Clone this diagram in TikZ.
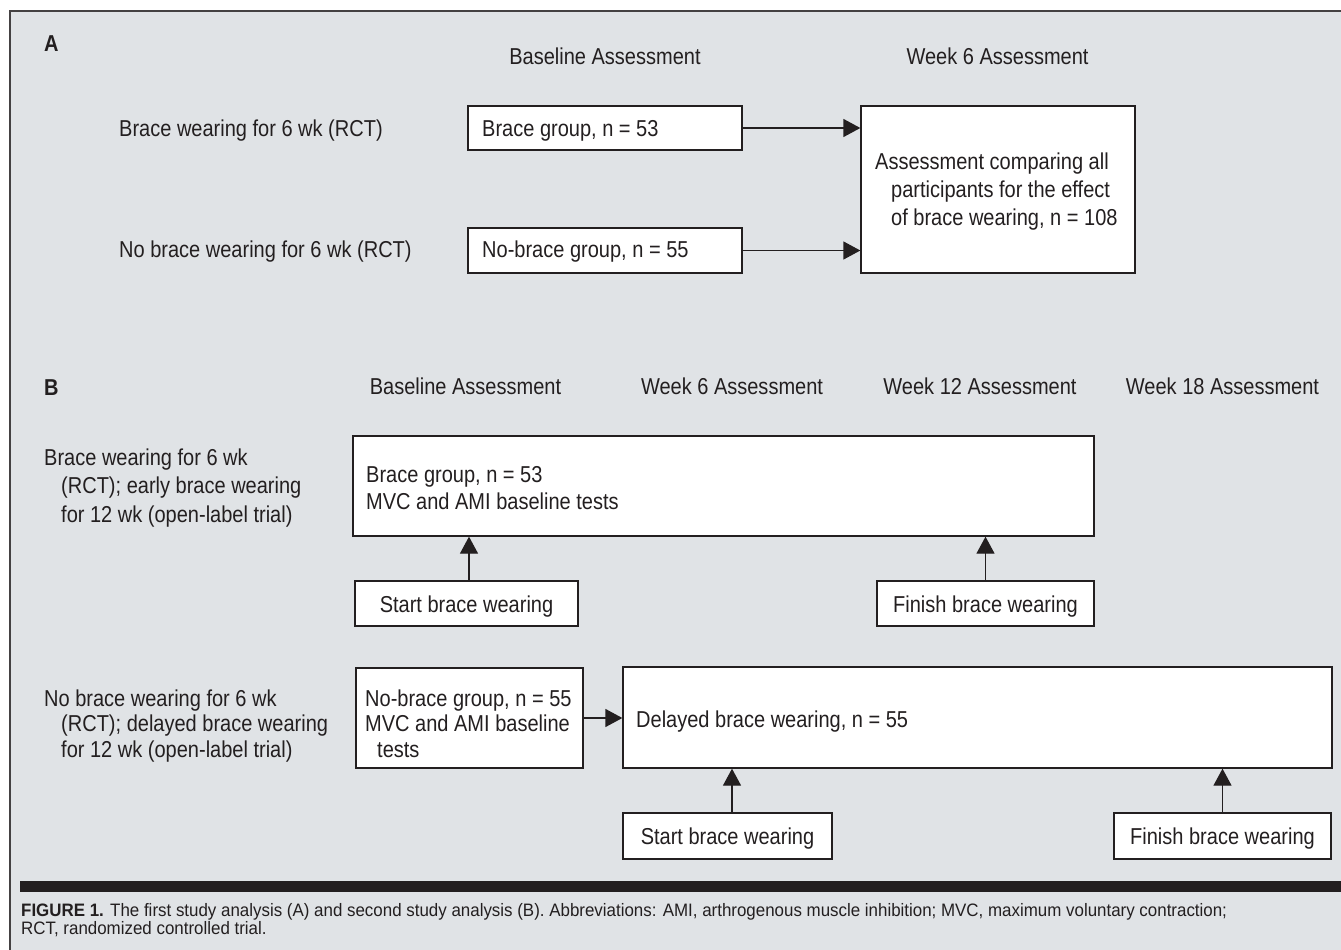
\documentclass[tikz,border=0pt]{standalone}
\usepackage{fontspec}
\setmainfont{Liberation Sans}[FakeStretch=0.87]
\newfontfamily\capfont{Liberation Sans}[FakeStretch=0.94]
\usetikzlibrary{arrows.meta}
\definecolor{bgc}{RGB}{224,227,230}
\definecolor{ink}{RGB}{35,31,32}
\newcommand{\mfs}{\fontsize{23}{28}\selectfont}
\newcommand{\cfs}{\capfont\fontsize{18}{18}\selectfont}
\tikzset{
  box/.style={draw=ink, line width=1.3pt, fill=white, inner sep=0pt},
  lbl/.style={inner sep=0pt, text=ink, font=\mfs},
  arr/.style={draw=ink, line width=1.3pt, -{Triangle[length=17pt,width=18pt]}},
}
\begin{document}
\begin{tikzpicture}[x=1pt,y=-1pt]
\useasboundingbox (0,0) rectangle (1341,950);
\fill[bgc] (10,11) rectangle (1341,950);
\draw[ink!85, line width=1.5pt] (10,950) -- (10,11) -- (1341,11);

% ---------- Panel A ----------
\node[lbl, anchor=base west] (labA) at (44,52) {\bfseries A};
\node[lbl, anchor=base] (hA1) at (605,65) {Baseline Assessment};
\node[lbl, anchor=base] (hA2) at (997.5,65) {Week 6 Assessment};
\node[lbl, anchor=base west] (gA1) at (119,136) {Brace wearing for 6 wk (RCT)};
\node[lbl, anchor=base west] (gA2) at (119,257) {No brace wearing for 6 wk (RCT)};

\node[box, minimum width=274, minimum height=44] (bA) at (605,128) {};
\node[box, minimum width=274, minimum height=45] (nA) at (605,250.5) {};
\node[box, minimum width=274, minimum height=167] (cA) at (998,189.5) {};
\node[lbl, anchor=base west] (bAt) at (482,136) {Brace group, n = 53};
\node[lbl, anchor=base west] (nAt) at (482,257) {No-brace group, n = 55};
\node[lbl, anchor=base west, align=left] (cAt) at (875,225)
  {Assessment comparing all\\\hspace*{16pt}participants for the effect\\\hspace*{16pt}of brace wearing, n = 108};

\draw[arr] (bA.east) -- (bA.east -| cA.west);
\draw[arr] (nA.east) -- (nA.east -| cA.west);

% ---------- Panel B ----------
\node[lbl, anchor=base west] (labB) at (44,395) {\bfseries B};
\node[lbl, anchor=base] (hB1) at (465.5,394) {Baseline Assessment};
\node[lbl, anchor=base] (hB2) at (732,394) {Week 6 Assessment};
\node[lbl, anchor=base] (hB3) at (980,394) {Week 12 Assessment};
\node[lbl, anchor=base] (hB4) at (1222.5,394) {Week 18 Assessment};

\node[lbl, anchor=base west, align=left, font=\fontsize{23}{28.5}\selectfont] (gB1) at (44,522)
  {Brace wearing for 6 wk\\\hspace*{17pt}(RCT); early brace wearing\\\hspace*{17pt}for 12 wk (open-label trial)};
\node[lbl, anchor=base west, align=left, font=\fontsize{23}{25.5}\selectfont] (gB2) at (44,757)
  {No brace wearing for 6 wk\\\hspace*{17pt}(RCT); delayed brace wearing\\\hspace*{17pt}for 12 wk (open-label trial)};

\node[box, minimum width=741, minimum height=100] (bB) at (723.5,486) {};
\node[box, minimum width=223, minimum height=45] (s1) at (466.5,603.5) {};
\node[box, minimum width=217, minimum height=45] (f1) at (985.5,603.5) {};
\node[box, minimum width=227, minimum height=100] (nbB) at (469.5,718) {};
\node[box, minimum width=709, minimum height=101] (dB) at (977.5,717.5) {};
\node[box, minimum width=209, minimum height=46] (s2) at (727.5,836) {};
\node[box, minimum width=217, minimum height=46] (f2) at (1222.5,836) {};

\node[lbl, anchor=base west, align=left, font=\fontsize{23}{27}\selectfont] (bBt) at (366,509)
  {Brace group, n = 53\\MVC and AMI baseline tests};
\node[lbl, anchor=base] (s1t) at (466.5,612) {Start brace wearing};
\node[lbl, anchor=base] (f1t) at (985.5,612) {Finish brace wearing};
\node[lbl, anchor=base west, align=left, font=\fontsize{23}{25.5}\selectfont] (nbBt) at (365,757)
  {No-brace group, n = 55\\MVC and AMI baseline\\\hspace*{12pt}tests};
\node[lbl, anchor=base west] (dBt) at (636,727) {Delayed brace wearing, n = 55};
\node[lbl, anchor=base] (s2t) at (727.5,844) {Start brace wearing};
\node[lbl, anchor=base] (f2t) at (1222.5,844) {Finish brace wearing};

\draw[arr] ([xshift=2.5pt]s1.north) -- ([xshift=2.5pt]s1.north |- bB.south);
\draw[arr] (f1.north) -- (f1.north |- bB.south);
\draw[arr] (nbB.east) -- (nbB.east -| dB.west);
\draw[arr] ([xshift=4.5pt]s2.north) -- ([xshift=4.5pt]s2.north |- dB.south);
\draw[arr] (f2.north) -- (f2.north |- dB.south);

% ---------- Caption ----------
\fill[ink] (20,881) rectangle (1341,892);
\node[lbl, anchor=base west, align=left, font=\cfs] (cap) at (21,934)
  {\textbf{FIGURE 1.} The first study analysis (A) and second study analysis (B). Abbreviations: AMI, arthrogenous muscle inhibition; MVC, maximum voluntary contraction;\\RCT, randomized controlled trial.};
\end{tikzpicture}
\end{document}
